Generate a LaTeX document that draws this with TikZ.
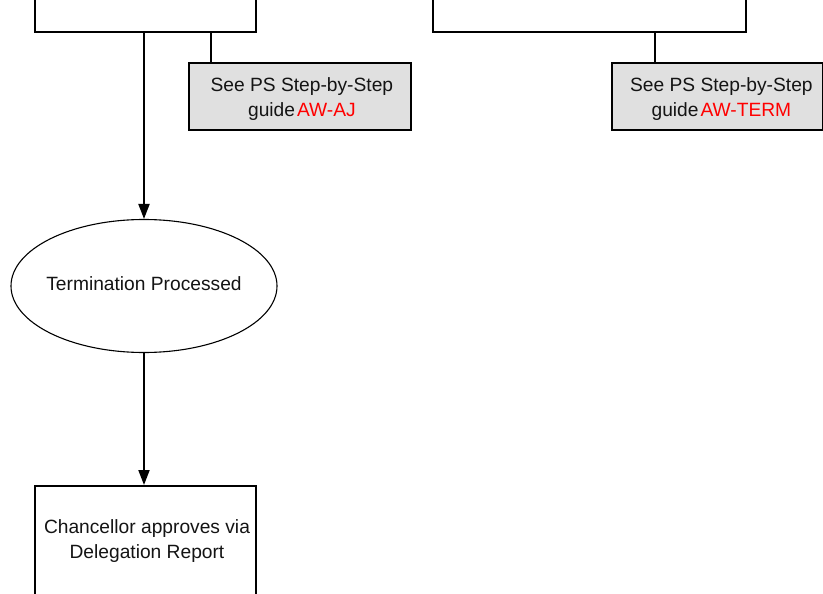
\documentclass[tikz,border=0pt]{standalone}
\usepackage{fontspec}
\setmainfont{Liberation Sans}
\usetikzlibrary{shapes.geometric,arrows.meta,calc}
\definecolor{guidegray}{RGB}{224,224,224}
\definecolor{inkgray}{RGB}{20,20,20}
\begin{document}
\begin{tikzpicture}[x=1pt,y=-1pt,
  every node/.style={font=\fontsize{19.2}{25}\selectfont, text=inkgray},
  procbox/.style={draw=black, line width=1.8pt, fill=white, inner sep=0pt, anchor=north west},
  guidebox/.style={draw=black, line width=1.8pt, fill=guidegray, inner sep=0pt, anchor=north west,
    minimum height=67pt},
  guidetext/.style={align=center, inner sep=0pt, yshift=-3pt},
  stateell/.style={draw=black, line width=1.1pt, ellipse, inner sep=0pt, minimum width=266pt, minimum height=133pt},
  flow/.style={draw=black, line width=2pt, -{Triangle[width=11pt,length=15pt]}},
  tie/.style={draw=black, line width=1.8pt}]
\useasboundingbox (0,0) rectangle (823,594);
\clip (0,0) rectangle (823,594);

% process boxes running off the top edge
\node[procbox, minimum width=221pt, minimum height=60pt] (tl) at (34,-29) {};
\node[procbox, minimum width=313pt, minimum height=60pt] (tr) at (432,-29) {};

% step-by-step guide notes
\node[guidebox, minimum width=222pt,
  label={[guidetext, xshift=2pt]center:See PS Step-by-Step\\guide\hspace{2pt}\textcolor{red}{AW-AJ}}] (g1) at (188,62) {};
\node[guidebox, minimum width=211pt,
  label={[guidetext, xshift=4pt]center:See PS Step-by-Step\\guide\hspace{2pt}\textcolor{red}{AW-TERM}}] (g2) at (611,62) {};

% termination state
\node[stateell, label={[inner sep=0pt, yshift=2pt]center:Termination Processed}] (term) at (144,286) {};

% approval box running off the bottom edge
\node[procbox, minimum width=221pt, minimum height=140pt] (appr) at (34,485) {};
\node[align=center, inner sep=0pt] (apprtxt) at (147,541) {Chancellor approves via\\Delegation Report};

% connectors
\draw[flow] (tl.south -| term.north) -- (term.north);
\draw[flow] (term.south) -- (appr.north -| term.south);
\draw[tie] ([xshift=23pt]g1.north west) -- ([xshift=23pt]g1.north west |- tl.south);
\draw[tie] ([xshift=44pt]g2.north west) -- ([xshift=44pt]g2.north west |- tr.south);
\end{tikzpicture}
\end{document}
